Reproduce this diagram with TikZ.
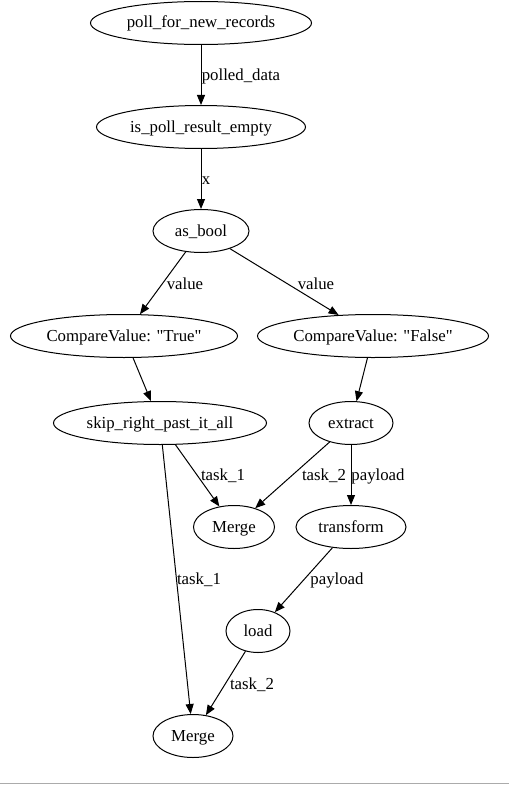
\documentclass[tikz,border=0pt]{standalone}
\usepackage{fontspec}
\setmainfont{Liberation Serif}
\usetikzlibrary{shapes.geometric,arrows.meta}
\newcommand\straightdq{\XeTeXglyph\XeTeXcharglyph"22\relax}
\begin{document}
\begin{tikzpicture}[x=1bp,y=-1bp,
  every node/.style={font=\fontsize{16.8bp}{20bp}\selectfont,text height=13.5bp,text depth=3.5bp},
  op/.style={draw,ellipse,line width=1bp,inner sep=0pt,minimum height=43bp},
  lbl/.style={inner sep=0pt},
  edge/.style={draw,line width=1bp,-{Triangle[length=10bp,width=8bp]}}]
\useasboundingbox (0,0) rectangle (509,787);
\draw[line width=1.2bp,color=black!33] (0,783.5) -- (509,783.5);
\node[op,minimum width=221bp] (poll) at (201,23) {poll\_for\_new\_records};
\node[op,minimum width=209bp] (empty) at (201,127) {is\_poll\_result\_empty};
\node[op,minimum width=96bp] (bool) at (201,231) {as\_bool};
\node[op,minimum width=227bp] (cvt) at (124,336) {CompareValue: \straightdq True\straightdq};
\node[op,minimum width=231bp] (cvf) at (373,336) {CompareValue: \straightdq False\straightdq};
\node[op,minimum width=213bp] (skip) at (160,423) {skip\_right\_past\_it\_all};
\node[op,minimum width=84bp] (extract) at (351,423) {extract};
\node[op,minimum width=81bp] (merge1) at (234,527) {Merge};
\node[op,minimum width=110bp] (transform) at (351,527) {transform};
\node[op,minimum width=64bp] (load) at (258,631) {load};
\node[op,minimum width=80bp] (merge2) at (193,736) {Merge};
\path[edge] (poll) -- (empty);
\path[edge] (empty) -- (bool);
\path[edge] (bool) -- (cvt);
\path[edge] (bool) -- (cvf);
\path[edge] (cvt) -- (skip);
\path[edge] (cvf) -- (extract);
\path[edge] (skip) -- (merge1);
\path[edge] (extract) -- (merge1);
\path[edge] (extract) -- (transform);
\path[edge] (skip) -- (merge2);
\path[edge] (transform) -- (load);
\path[edge] (load) -- (merge2);
\node[lbl] (l1) at (241,75) {polled\_data};
\node[lbl] (l2) at (206,179) {x};
\node[lbl] (l3) at (185,284) {value};
\node[lbl] (l4) at (316,284) {value};
\node[lbl] (l5) at (223,475) {task\_1};
\node[lbl] (l6) at (324,475) {task\_2};
\node[lbl] (l7) at (378,475) {payload};
\node[lbl] (l8) at (199,579) {task\_1};
\node[lbl] (l9) at (337,579) {payload};
\node[lbl] (l10) at (252,684) {task\_2};
\end{tikzpicture}
\end{document}
